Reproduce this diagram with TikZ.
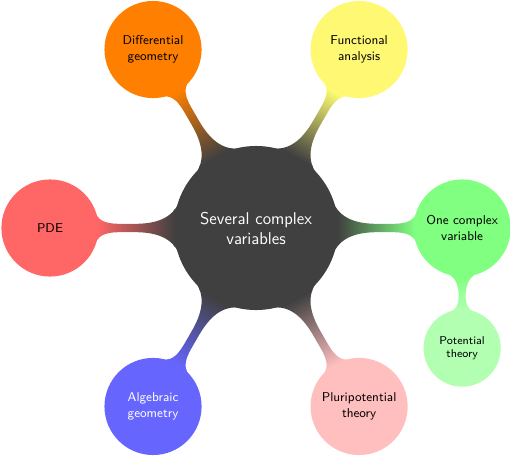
\documentclass[tikz,border=0pt]{standalone}
\usetikzlibrary{mindmap}
\tikzset{
  rootc/.style={minimum size=114pt,text width=96pt,font={\sffamily\large\hyphenpenalty=10000},align=center},
  lvone/.style={minimum size=67pt,text width=56pt,font={\sffamily\small\hyphenpenalty=10000},align=center},
  lvtwo/.style={minimum size=53pt,text width=42pt,font={\sffamily\footnotesize\hyphenpenalty=10000},align=center},
}
\begin{document}
\begin{tikzpicture}
\useasboundingbox (-179.8pt,-160.1pt) rectangle (178.3pt,160.1pt);
\path[mindmap,concept color=black!75,text=white,
  level 1/.append style={level distance=144.7pt,sibling angle=60},
  level 2/.append style={level distance=84.3pt}]
  node[concept,rootc] (root) {Several complex variables}
  [clockwise from=0]
  child[concept color=green!50] {
    node[concept,lvone,text=black] (ocv) {One complex variable}
    child[concept color=green!30,grow=-90] {
      node[concept,lvtwo,text=black] (pot) {Potential theory}
    }
  }
  child[concept color=red!25] {
    node[concept,lvone,text=black] (pluri) {Pluripotential theory}
  }
  child[concept color=blue!60] {
    node[concept,lvone,text=white] (alg) {Algebraic geometry}
  }
  child[concept color=red!60] {
    node[concept,lvone,text=black] (pde) {PDE}
  }
  child[concept color=orange] {
    node[concept,lvone,text=black] (dg) {Differential geometry}
  }
  child[concept color=yellow!55] {
    node[concept,lvone,text=black] (fa) {Functional analysis}
  };
\end{tikzpicture}
\end{document}
